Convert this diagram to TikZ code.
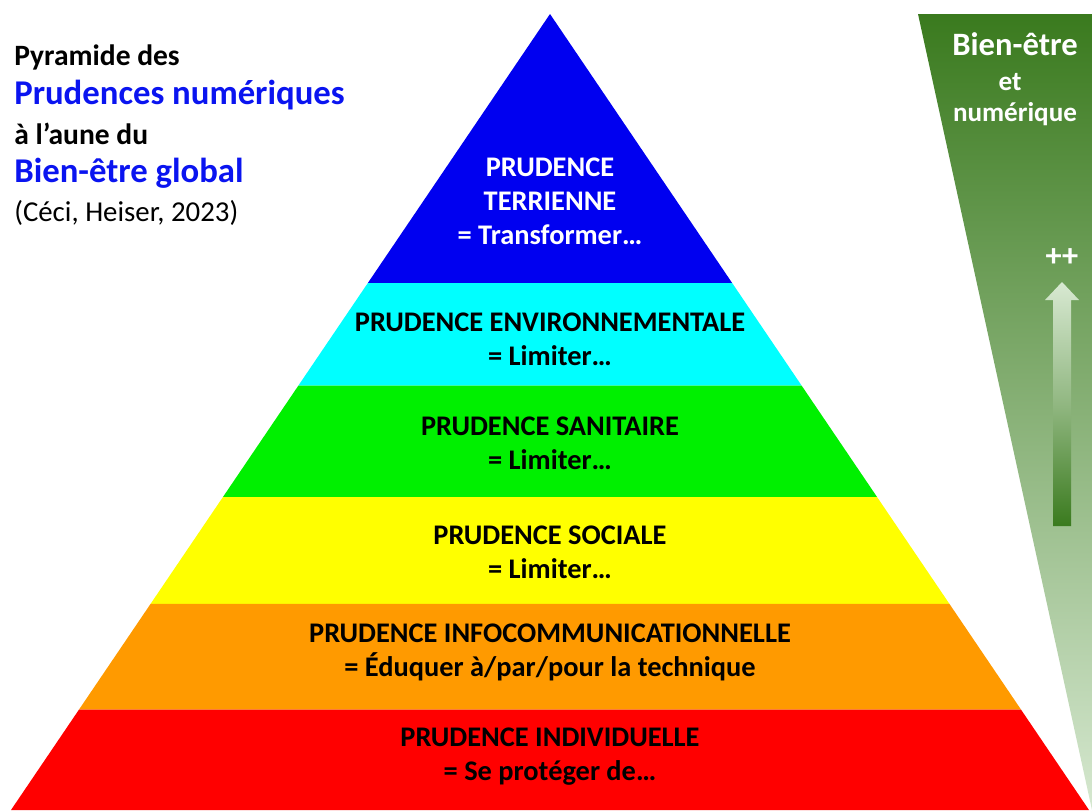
\documentclass[tikz,border=0pt]{standalone}
\usepackage{fontspec}
\setmainfont{Carlito}
\usepackage{tikz}
\usetikzlibrary{calc}
\definecolor{lvlblue}{HTML}{0000F0}
\definecolor{lvlcyan}{HTML}{00FFFF}
\definecolor{lvlgreen}{HTML}{00F000}
\definecolor{lvlyellow}{HTML}{FFFF00}
\definecolor{lvlorange}{HTML}{FF9A00}
\definecolor{lvlred}{HTML}{FF0000}
\definecolor{titleblue}{HTML}{0A14F0}
\definecolor{wedgetop}{HTML}{3A7A1E}
\definecolor{wedgebot}{HTML}{D6E8D0}
\definecolor{arrowtop}{HTML}{D8E9D2}
\definecolor{arrowbot}{HTML}{3A7A1E}
\tikzset{
  lvl/.style={align=center, inner sep=0pt, font=\bfseries\fontsize{20.2}{24.2}\selectfont},
  tsmall/.style={anchor=west, inner sep=0pt, font=\bfseries\fontsize{21}{23}\selectfont},
  tbig/.style={anchor=west, inner sep=0pt, text=titleblue, font=\bfseries\fontsize{24.7}{27}\selectfont},
  wlab/.style={inner sep=0pt, text=white, font=\bfseries\fontsize{19.3}{21}\selectfont}
}

\begin{document}
\begin{tikzpicture}[x=0.025cm, y=-0.025cm]
  \useasboundingbox (0,0) rectangle (1092,810);

  % bien-etre wedge
  \shade[top color=wedgetop, bottom color=wedgebot] (918,14) -- (1092,14) -- (1092,810) -- cycle;
  \shade[top color=arrowtop, bottom color=arrowbot, middle color=arrowtop!55!arrowbot]
    (1053,526) -- (1053,300) -- (1045,300) -- (1062,282) -- (1079,300) -- (1071,300) -- (1071,526) -- cycle;

  % pyramid
  \coordinate (A) at (550,14);
  \coordinate (BL) at (11,810);
  \coordinate (BR) at (1089,810);
  \foreach \col/\ta/\tb in {lvlblue/0/0.338, lvlcyan/0.338/0.467, lvlgreen/0.467/0.607,
      lvlyellow/0.607/0.741, lvlorange/0.741/0.874, lvlred/0.874/1}
    \fill[\col] ($(A)!\ta!(BL)$) -- ($(A)!\ta!(BR)$) -- ($(A)!\tb!(BR)$) -- ($(A)!\tb!(BL)$) -- cycle;

  \node[lvl, text=white] (terr) at (550,201) {PRUDENCE\\TERRIENNE\\= Transformer…};
  \node[lvl] (env) at (550,339) {PRUDENCE ENVIRONNEMENTALE\\= Limiter…};
  \node[lvl] (san) at (550,443) {PRUDENCE SANITAIRE\\= Limiter…};
  \node[lvl] (soc) at (550,552) {PRUDENCE SOCIALE\\= Limiter…};
  \node[lvl] (info) at (550,652) {PRUDENCE INFOCOMMUNICATIONNELLE\\= Éduquer à/par/pour la technique};
  \node[lvl] (indiv) at (550,757) {PRUDENCE INDIVIDUELLE\\= Se protéger de…};

  % title
  \node[tsmall] (t1) at (14,57) {Pyramide des};
  \node[tbig] (t2) at (14,95) {Prudences numériques};
  \node[tsmall] (t3) at (14,134) {à l’aune du};
  \node[tbig] (t4) at (14,173) {Bien-être global};
  \node[tsmall, font=\fontsize{20.5}{23}\selectfont] (t5) at (14,213) {(Céci, Heiser, 2023)};

  \node[wlab, font=\bfseries\fontsize{23.2}{25}\selectfont] (w1) at (1015,44) {Bien-être};
  \node[wlab] (w2) at (1010,82) {et};
  \node[wlab] (w3) at (1015,114) {numérique};
  \node[wlab, font=\bfseries\fontsize{23}{25}\selectfont] (plus) at (1062,258) {++};
\end{tikzpicture}
\end{document}
